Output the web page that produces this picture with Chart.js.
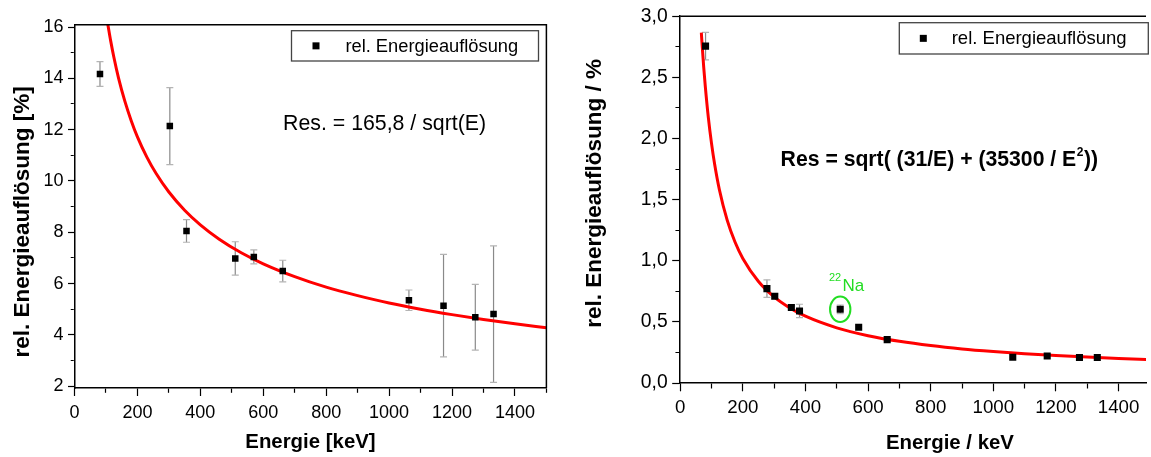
<!DOCTYPE html>
<html>
<head>
<meta charset="utf-8">
<script src="https://cdn.jsdelivr.net/npm/chart.js@4.4.1/dist/chart.umd.min.js"></script>
<style>
html, body { margin: 0; padding: 0; background: #fff; overflow: hidden; }
#left { position: absolute; left: 0; top: 0; width: 570px; height: 457px; }
#right { position: absolute; left: 580px; top: 0; width: 571px; height: 457px; }
</style>
</head>
<body>
<div id="left"><canvas id="chartA"></canvas></div>
<div id="right"><canvas id="chartB"></canvas></div>
<script>
// left plot: measured points
var energyA = [81, 303, 356, 511, 570, 662, 1063, 1173, 1274, 1332];
var resA = [14.17, 12.14, 8.05, 6.98, 7.04, 6.49, 5.35, 5.14, 4.69, 4.81];
var errA = [0.48, 1.5, 0.44, 0.65, 0.27, 0.42, 0.4, 2.0, 1.28, 2.66];

// left plot: red fit line
var fitEnergyA = [106, 115, 125, 140, 160, 180, 200, 230, 260, 300, 350, 400, 460, 530, 600, 700, 800, 900, 1000, 1100, 1200, 1300, 1400, 1500];
var fitResA = [16.10, 15.46, 14.83, 14.01, 13.11, 12.36, 11.72, 10.93, 10.28, 9.57, 8.86, 8.29, 7.73, 7.20, 6.77, 6.27, 5.86, 5.53, 5.24, 5.00, 4.79, 4.60, 4.43, 4.28];

// right plot: measured points
var energyB = [81, 277, 302, 355, 381, 511, 570, 661, 1062, 1172, 1275, 1332];
var resB = [2.755, 0.772, 0.709, 0.617, 0.589, 0.603, 0.456, 0.355, 0.210, 0.221, 0.208, 0.208];
var errB = [0.113, 0.072, 0.02, 0.02, 0.055, 0.035, 0, 0, 0, 0, 0, 0];

// right plot: red fit line
var fitEnergyB = [67.5, 70, 75, 80, 90, 100, 110, 125, 150, 175, 200, 250, 300, 350, 400, 500, 600, 700, 800, 900, 1000, 1100, 1200, 1300, 1400, 1500];
var fitResB = [2.865, 2.765, 2.586, 2.43, 2.168, 1.96, 1.789, 1.583, 1.332, 1.153, 1.019, 0.83, 0.704, 0.614, 0.546, 0.451, 0.387, 0.341, 0.306, 0.279, 0.258, 0.240, 0.225, 0.212, 0.200, 0.191];

// labelled ticks (the others are minor ticks)
var xLabels = [0, 200, 400, 600, 800, 1000, 1200, 1400];
var yLabelsA = [2, 4, 6, 8, 10, 12, 14, 16];
var yLabelsB = [0, 0.5, 1, 1.5, 2, 2.5, 3];

var legendText = 'rel. Energieauflösung';
var FONT = '"Liberation Sans", Arial, sans-serif';

Chart.defaults.font.family = FONT;
Chart.defaults.color = '#000';

function pts(xs, ys) {
  return xs.map(function (x, i) { return { x: x, y: ys[i] }; });
}

// error bars from dataset.errors, drawn under the markers and the fit
var errorBars = {
  id: 'errorBars',
  beforeDatasetsDraw: function (chart) {
    var ctx = chart.ctx, sx = chart.scales.x, sy = chart.scales.y;
    var ds = chart.data.datasets[0];
    ctx.save();
    ds.data.forEach(function (p, i) {
      var e = ds.errors[i];
      if (!e) return;
      var px = sx.getPixelForValue(p.x);
      var top = sy.getPixelForValue(p.y + e), bot = sy.getPixelForValue(p.y - e);
      ctx.lineWidth = 1.2;
      ctx.strokeStyle = '#8a8a8a';
      ctx.beginPath(); ctx.moveTo(px, top); ctx.lineTo(px, bot); ctx.stroke();
      ctx.strokeStyle = '#b4b4b4';
      ctx.beginPath();
      ctx.moveTo(px - 3.5, top); ctx.lineTo(px + 3.5, top);
      ctx.moveTo(px - 3.5, bot); ctx.lineTo(px + 3.5, bot);
      ctx.stroke();
    });
    ctx.restore();
  }
};

function drawLegend(ctx, x, y, w, h, mx, tx, size) {
  ctx.save();
  ctx.strokeStyle = '#444';
  ctx.lineWidth = 1.3;
  ctx.strokeRect(x, y, w, h);
  ctx.fillStyle = '#000';
  ctx.fillRect(mx - 3.5, y + h / 2 - 3.5, 7, 7);
  ctx.font = size + 'px ' + FONT;
  ctx.textBaseline = 'middle';
  ctx.textAlign = 'left';
  ctx.fillText(legendText, tx, y + h / 2 + 1);
  ctx.restore();
}

function xAxis(opts) {
  return {
    type: 'linear',
    min: 0,
    max: opts.max,
    afterFit: function (s) { s.height = opts.height; },
    border: { display: true, color: '#000', width: 1.5 },
    grid: {
      drawOnChartArea: false,
      tickLength: opts.tl,
      tickColor: '#000',
      tickWidth: 1.2,
      tickBorderDash: function (c) {
        return xLabels.indexOf(c.tick.value) >= 0 ? [] : [opts.minor, 100];
      }
    },
    ticks: {
      stepSize: 100, autoSkip: false, maxRotation: 0, includeBounds: false,
      padding: opts.pad, font: { size: opts.font }, color: '#000',
      callback: function (v) { return xLabels.indexOf(v) >= 0 ? String(v) : ''; }
    },
    title: {
      display: true, text: opts.title, color: '#000',
      font: { size: 20.4, weight: 'bold' },
      padding: { top: 0, bottom: opts.titlePad }
    }
  };
}

function yAxis(opts) {
  return {
    type: 'linear',
    min: opts.min,
    max: opts.max,
    afterFit: function (s) { s.width = opts.width; },
    border: { display: true, color: '#000', width: 1.5 },
    grid: {
      drawOnChartArea: false,
      tickLength: opts.tl,
      tickColor: '#000',
      tickWidth: 1.2,
      tickBorderDash: function (c) {
        return opts.labels.indexOf(c.tick.value) >= 0 ? [] : [0, opts.tl - 0.75 - opts.minor, opts.minor, 100];
      }
    },
    ticks: {
      stepSize: opts.step, autoSkip: false, includeBounds: false, maxTicksLimit: 100,
      padding: opts.pad, font: { size: opts.font }, color: '#000',
      callback: function (v) { return opts.labels.indexOf(v) >= 0 ? opts.fmt(v) : ''; }
    },
    title: {
      display: true, text: opts.title, color: '#000',
      font: { size: 22.5, weight: 'bold' },
      padding: { top: opts.titlePad, bottom: 0 }
    }
  };
}

function datasets(ex, ey, err, fx, fy, r) {
  return [
    {
      label: legendText, data: pts(ex, ey), errors: err,
      pointStyle: 'rect', pointRadius: r, pointHoverRadius: r,
      backgroundColor: '#000', borderColor: '#000', borderWidth: 0, showLine: false
    },
    {
      label: 'Fit', data: pts(fx, fy), showLine: true, pointRadius: 0,
      borderColor: '#ff0000', borderWidth: 3, cubicInterpolationMode: 'monotone', fill: false
    }
  ];
}

var plainPlugins = { legend: { display: false }, tooltip: { enabled: false } };

new Chart('chartA', {
  type: 'scatter',
  data: { datasets: datasets(energyA, resA, errA, fitEnergyA, fitResA, 4.6) },
  options: {
    responsive: true, maintainAspectRatio: false, animation: false,
    layout: { padding: { left: 0, top: 24.7, right: 23.6, bottom: 0 } },
    plugins: plainPlugins,
    scales: {
      x: xAxis({ max: 1500, height: 69, tl: 8, minor: 4.3, pad: 6, font: 18, title: 'Energie [keV]', titlePad: 2.75 }),
      y: yAxis({ min: 1.93, max: 16.09, step: 1, width: 74.5, tl: 6.5, minor: 3, pad: 4.4, font: 18,
        labels: yLabelsA, fmt: function (v) { return String(v); },
        title: 'rel. Energieauflösung [%]     ', titlePad: 9.7 })
    }
  },
  plugins: [errorBars, {
    id: 'notesA',
    afterDraw: function (chart) {
      var ctx = chart.ctx, ca = chart.chartArea, sx = chart.scales.x, sy = chart.scales.y;
      ctx.save();
      ctx.strokeStyle = '#000';
      ctx.lineWidth = 1.5;
      ctx.beginPath();
      ctx.moveTo(ca.left, ca.top); ctx.lineTo(ca.right, ca.top); ctx.lineTo(ca.right, ca.bottom);
      ctx.stroke();
      drawLegend(ctx, 291.5, 30.7, 247, 30.3, 316, 345.4, 18.3);
      ctx.fillStyle = '#000';
      ctx.font = '21.3px ' + FONT;
      ctx.textBaseline = 'middle';
      ctx.textAlign = 'left';
      ctx.fillText('Res. = 165,8 / sqrt(E)', sx.getPixelForValue(663), sy.getPixelForValue(12.22));
      ctx.restore();
    }
  }]
});

new Chart('chartB', {
  type: 'scatter',
  data: { datasets: datasets(energyB, resB, errB, fitEnergyB, fitResB, 5) },
  options: {
    responsive: true, maintainAspectRatio: false, animation: false,
    layout: { padding: { left: 0, top: 16, right: 0, bottom: 0 } },
    plugins: plainPlugins,
    scales: {
      x: xAxis({ max: 1487.5, height: 74, tl: 8.3, minor: 5, pad: 5, font: 18.7,
        title: '             Energie / keV', titlePad: 1.45 }),
      y: yAxis({ min: 0, max: 3, step: 0.25, width: 100.2, tl: 8, minor: 4, pad: 4.6, font: 19.3,
        labels: yLabelsB, fmt: function (v) { return v.toFixed(1).replace('.', ','); },
        title: '  rel. Energieauflösung / %', titlePad: 1 })
    }
  },
  plugins: [errorBars, {
    id: 'notesB',
    afterDraw: function (chart) {
      var ctx = chart.ctx, ca = chart.chartArea, sx = chart.scales.x, sy = chart.scales.y;
      ctx.save();
      ctx.strokeStyle = '#000';
      ctx.lineWidth = 1.5;
      ctx.beginPath(); ctx.moveTo(ca.left, ca.top); ctx.lineTo(ca.right, ca.top); ctx.stroke();
      drawLegend(ctx, 319.3, 22.7, 249, 31.3, 343.3, 371.7, 18.5);

      // fit formula with superscript
      var fx = sx.getPixelForValue(320.7), fy = sy.getPixelForValue(1.822);
      var part1 = 'Res = sqrt( (31/E) + (35300 / E';
      ctx.fillStyle = '#000';
      ctx.textBaseline = 'middle';
      ctx.textAlign = 'left';
      ctx.font = 'bold 21.2px ' + FONT;
      ctx.fillText(part1, fx, fy);
      var w1 = ctx.measureText(part1).width;
      ctx.font = 'bold 12px ' + FONT;
      ctx.fillText('2', fx + w1 + 0.5, fy - 8);
      var w2 = ctx.measureText('2').width;
      ctx.font = 'bold 21.2px ' + FONT;
      ctx.fillText('))', fx + w1 + w2 + 1, fy);

      // 22Na marker
      var na = chart.data.datasets[0].data[5];
      var px = sx.getPixelForValue(na.x), py = sy.getPixelForValue(na.y);
      ctx.strokeStyle = '#22dd22';
      ctx.lineWidth = 2;
      ctx.beginPath(); ctx.ellipse(px, py, 10.2, 12.7, 0, 0, Math.PI * 2); ctx.stroke();
      ctx.fillStyle = '#22dd22';
      ctx.font = '17px ' + FONT;
      ctx.fillText('Na', px + 2.3, py - 23);
      ctx.font = '11px ' + FONT;
      ctx.textAlign = 'right';
      ctx.fillText('22', px + 1, py - 31.5);
      ctx.restore();
    }
  }]
});
</script>
</body>
</html>
